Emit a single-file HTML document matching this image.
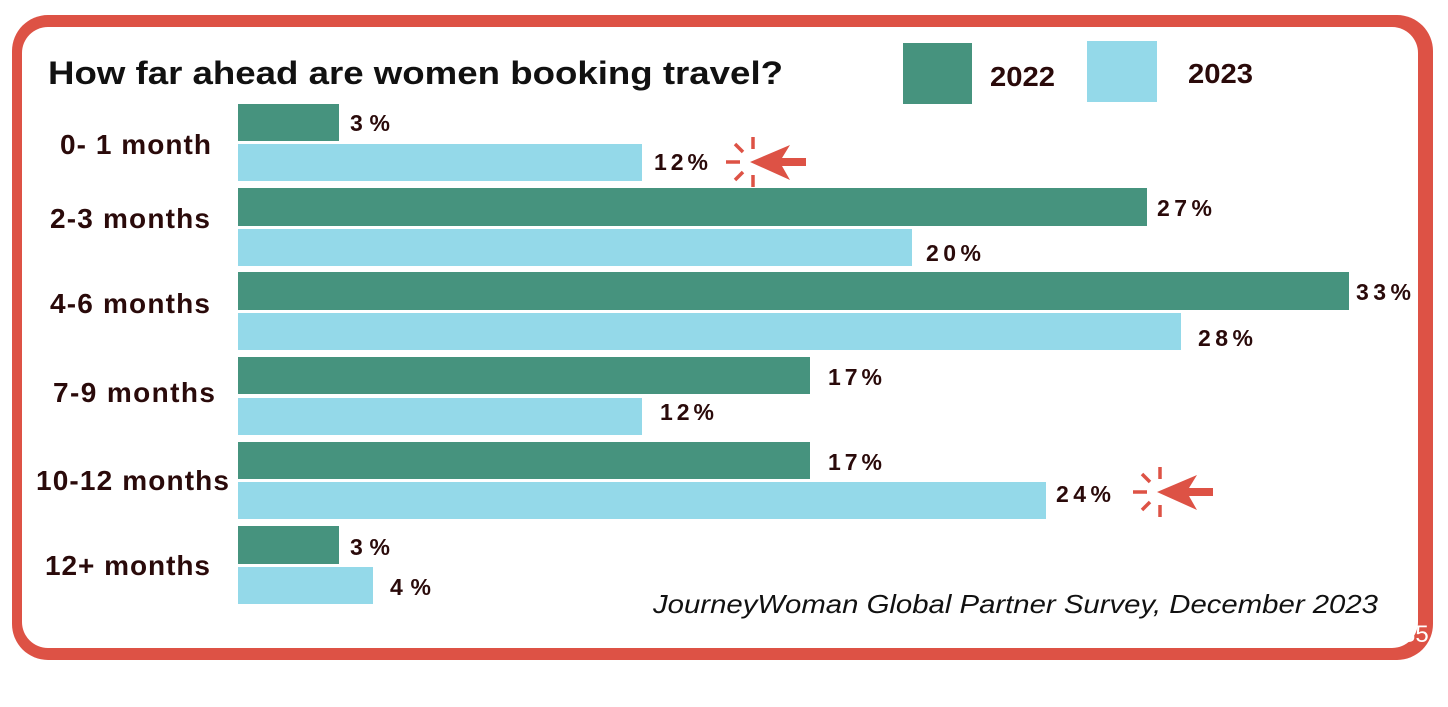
<!DOCTYPE html>
<html><head><style>
body{margin:0;width:1448px;height:702px;background:#fff;overflow:hidden;font-family:"Liberation Sans",sans-serif;}
</style></head><body>
<svg width="1448" height="702" xmlns="http://www.w3.org/2000/svg">
<rect x="12" y="15" width="1421" height="645" rx="36" fill="#dd5245"/>
<rect x="22" y="27" width="1396" height="621" rx="26" fill="#fff"/>
<text x="48" y="84" font-size="32" font-weight="bold" fill="#111" textLength="735" lengthAdjust="spacingAndGlyphs">How far ahead are women booking travel?</text>
<rect x="903" y="43" width="69" height="61" fill="#46937e"/>
<text x="990" y="86" font-size="28" font-weight="bold" fill="#2a0a0a" textLength="65" lengthAdjust="spacingAndGlyphs">2022</text>
<rect x="1087" y="41" width="70" height="61" fill="#94d9e9"/>
<text x="1188" y="83" font-size="28" font-weight="bold" fill="#2a0a0a" textLength="65" lengthAdjust="spacingAndGlyphs">2023</text>
<g font-size="28" font-weight="bold" fill="#2a0a0a" lengthAdjust="spacingAndGlyphs">
<text x="60" y="154" textLength="151">0- 1 month</text>
<text x="50" y="228" textLength="160">2-3 months</text>
<text x="50" y="313" textLength="160">4-6 months</text>
<text x="53" y="402" textLength="162">7-9 months</text>
<text x="36" y="490" textLength="193">10-12 months</text>
<text x="45" y="575" textLength="165">12+ months</text>
</g>
<g fill="#46937e">
<rect x="238" y="104" width="101" height="37"/>
<rect x="238" y="188" width="909" height="38"/>
<rect x="238" y="272" width="1111" height="38"/>
<rect x="238" y="357" width="572" height="37"/>
<rect x="238" y="442" width="572" height="37"/>
<rect x="238" y="526" width="101" height="38"/>
</g>
<g fill="#94d9e9">
<rect x="238" y="144" width="404" height="37"/>
<rect x="238" y="229" width="674" height="37"/>
<rect x="238" y="313" width="943" height="37"/>
<rect x="238" y="398" width="404" height="37"/>
<rect x="238" y="482" width="808" height="37"/>
<rect x="238" y="567" width="135" height="37"/>
</g>
<g font-size="23" font-weight="bold" fill="#2a0a0a" lengthAdjust="spacingAndGlyphs">
<text x="350" y="131" textLength="40">3%</text>
<text x="654" y="170" textLength="54">12%</text>
<text x="1157" y="216" textLength="55">27%</text>
<text x="926" y="261" textLength="55">20%</text>
<text x="1356" y="300" textLength="55">33%</text>
<text x="1198" y="346" textLength="55">28%</text>
<text x="828" y="385" textLength="54">17%</text>
<text x="660" y="420" textLength="54">12%</text>
<text x="828" y="470" textLength="54">17%</text>
<text x="1056" y="502" textLength="55">24%</text>
<text x="350" y="555" textLength="40">3%</text>
<text x="390" y="595" textLength="41">4%</text>
</g>
<g stroke="#dd5245" stroke-width="3.5" fill="none">
<path d="M726 162h14M753 137v12M753 175v12M735 144l8 8M735 180l8-8"/>
<path d="M1133 492h14M1160 467v12M1160 505v12M1142 474l8 8M1142 510l8-8"/>
</g>
<g fill="#dd5245">
<polygon points="750,162 790,145 782,158 806,158 806,166 782,166 790,180"/>
<polygon points="1157,492 1197,475 1189,488 1213,488 1213,496 1189,496 1197,510"/>
</g>
<text x="653" y="613" font-size="26" font-style="italic" fill="#111" textLength="725" lengthAdjust="spacingAndGlyphs">JourneyWoman Global Partner  Survey, December 2023</text>
<text x="1402" y="642" font-size="24" fill="#fff">35</text>
</svg>
</body></html>
